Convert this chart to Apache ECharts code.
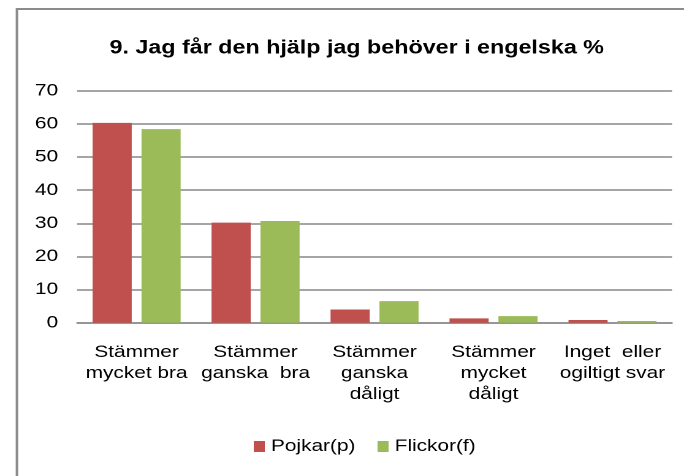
<!DOCTYPE html>
<html>
<head>
<meta charset="utf-8">
<script src="https://cdn.jsdelivr.net/npm/echarts@6/dist/echarts.min.js"></script>
<style>
  html, body { margin: 0; padding: 0; background: #fff; overflow: hidden; }
  /* The chart is laid out on a narrower canvas and widened to 684px,
     which gives the broad, horizontally stretched lettering. */
  #chart {
    width: 558px;
    height: 476px;
    transform: scaleX(1.2258);
    transform-origin: 0 0;
  }
</style>
</head>
<body>
<div id="chart"></div>
<script>
// Survey answers, percent per response category
const categories = [
  'Stämmer\nmycket bra',
  'Stämmer\nganska  bra',
  'Stämmer\nganska\ndåligt',
  'Stämmer\nmycket\ndåligt',
  'Inget  eller\nogiltigt svar'
];
const pojkar = [60.3, 30.2, 4.0, 1.3, 0.8];
const flickor = [58.4, 30.7, 6.5, 2.0, 0.5];
const seriesNames = ['Pojkar(p)', 'Flickor(f)'];
const titleText = '9. Jag får den hjälp jag behöver i engelska %';

const font = 'Liberation Sans, Arial, sans-serif';
const chart = echarts.init(document.getElementById('chart'), null, {
  renderer: 'canvas',
  devicePixelRatio: 2
});

chart.setOption({
  animation: false,
  backgroundColor: '#ffffff',
  graphic: [{
    type: 'rect',
    shape: { x: 13.8, y: 9, width: 600, height: 520 },
    style: { fill: 'none', stroke: '#8c8c8c', lineWidth: 2 },
    silent: true,
    z: -1
  }],
  title: {
    text: titleText,
    left: 286,
    textAlign: 'center',
    top: 34,
    textStyle: { fontFamily: font, fontSize: 19, fontWeight: 'bold', color: '#000' }
  },
  legend: {
    data: seriesNames,
    bottom: 16,
    left: 202,
    itemWidth: 9,
    itemHeight: 11,
    itemGap: 18,
    icon: 'rect',
    textStyle: { fontFamily: font, fontSize: 17, color: '#000' }
  },
  grid: { left: 62.9, right: 9.8, top: 90.7, bottom: 153.3, containLabel: false },
  xAxis: {
    type: 'category',
    data: categories,
    axisLine: { show: true, lineStyle: { color: '#888888', width: 1.5 } },
    axisTick: { show: false },
    axisLabel: {
      interval: 0,
      margin: 19,
      fontFamily: font,
      fontSize: 17,
      lineHeight: 21,
      color: '#000',
      align: 'center'
    }
  },
  yAxis: {
    type: 'value',
    min: 0,
    max: 70,
    interval: 10,
    axisLine: { show: false },
    axisTick: { show: false },
    splitLine: { show: true, lineStyle: { color: '#888888', width: 1.5 } },
    axisLabel: { margin: 15.5, fontFamily: font, fontSize: 17, color: '#000' }
  },
  series: [
    {
      name: seriesNames[0],
      type: 'bar',
      data: pojkar,
      barGap: '25%',
      barCategoryGap: '26%',
      itemStyle: { color: '#C0504D' }
    },
    {
      name: seriesNames[1],
      type: 'bar',
      data: flickor,
      itemStyle: { color: '#9BBB59' }
    }
  ]
});
</script>
</body>
</html>
